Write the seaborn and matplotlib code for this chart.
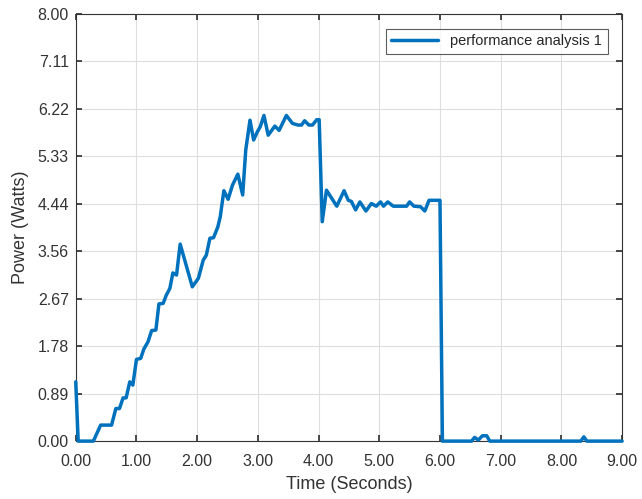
import numpy as np
import pandas as pd
import matplotlib.pyplot as plt
import seaborn as sns

time = [0.00, 0.04, 0.29, 0.41, 0.59, 0.66, 0.72, 0.78, 0.83, 0.89, 0.94,
        1.00, 1.07, 1.12, 1.19, 1.25, 1.32, 1.37, 1.44, 1.49, 1.55, 1.60,
        1.66, 1.72, 1.92, 2.02, 2.10, 2.15, 2.21, 2.27, 2.34, 2.38, 2.44,
        2.51, 2.58, 2.67, 2.75, 2.80, 2.87, 2.93, 2.99, 3.04, 3.10, 3.17,
        3.28, 3.35, 3.47, 3.57, 3.66, 3.72, 3.77, 3.84, 3.90, 3.97, 4.01,
        4.06, 4.13, 4.30, 4.42, 4.49, 4.54, 4.61, 4.68, 4.78, 4.87, 4.95,
        5.02, 5.07, 5.14, 5.23, 5.45, 5.50, 5.57, 5.68, 5.75, 5.82, 5.97,
        6.00, 6.04, 6.52, 6.57, 6.63, 6.70, 6.77, 6.82, 8.32, 8.37, 8.42, 9.00]
power = [1.11, 0.00, 0.00, 0.30, 0.30, 0.61, 0.61, 0.81, 0.81, 1.11, 1.05,
         1.53, 1.55, 1.72, 1.86, 2.07, 2.08, 2.57, 2.58, 2.73, 2.86, 3.15,
         3.11, 3.69, 2.89, 3.05, 3.39, 3.48, 3.80, 3.81, 4.01, 4.20, 4.69,
         4.53, 4.79, 5.00, 4.61, 5.45, 6.01, 5.64, 5.79, 5.89, 6.10, 5.73,
         5.90, 5.82, 6.10, 5.95, 5.92, 5.92, 6.00, 5.92, 5.92, 6.02, 6.02,
         4.11, 4.70, 4.40, 4.69, 4.51, 4.49, 4.33, 4.48, 4.31, 4.45, 4.40,
         4.48, 4.40, 4.48, 4.40, 4.40, 4.48, 4.40, 4.39, 4.31, 4.51, 4.51,
         4.51, 0.00, 0.00, 0.07, 0.02, 0.10, 0.10, 0.00, 0.00, 0.08, 0.00, 0.00]

x_ticks = np.arange(0, 10)
y_ticks = np.linspace(0, 8, 10)

df = pd.DataFrame({"time": time, "power": power})

sns.set_theme(style="ticks")
plt.rcParams["font.family"] = ["Liberation Sans", "DejaVu Sans"]

fig = plt.figure(figsize=(6.42, 4.99), dpi=100)
ax = fig.add_axes([0.118, 0.116, 0.851, 0.856])

sns.lineplot(data=df, x="time", y="power", color="#0072BD", linewidth=2.5,
             label="performance analysis 1", ax=ax, clip_on=False, zorder=5)

ax.set_xlim(0, 9)
ax.set_ylim(0, 8)
ax.set_xticks(x_ticks)
ax.set_xticklabels([f"{v:.2f}" for v in x_ticks])
ax.set_yticks(y_ticks)
ax.set_yticklabels([f"{v:.2f}" for v in y_ticks])
ax.grid(True, color="#dedede", linewidth=0.8)
ax.tick_params(direction="in", length=4, labelsize=11.5, colors="#333333",
               top=True, right=True)
ax.tick_params(axis="x", pad=9)
ax.tick_params(axis="y", pad=5)
for s in ax.spines.values():
    s.set_color("#333333")
    s.set_linewidth(0.8)
ax.set_xlabel("Time (Seconds)", fontsize=13, color="#333333", labelpad=5)
ax.set_ylabel("Power (Watts)", fontsize=13, color="#333333", labelpad=6)

leg = ax.legend(loc="upper right", fontsize=10.5, frameon=True, fancybox=False,
                handlelength=3.2, borderaxespad=1.0)
leg.get_frame().set_edgecolor("#333333")
leg.get_frame().set_linewidth(0.8)

fig.savefig("out.png", dpi=100)
